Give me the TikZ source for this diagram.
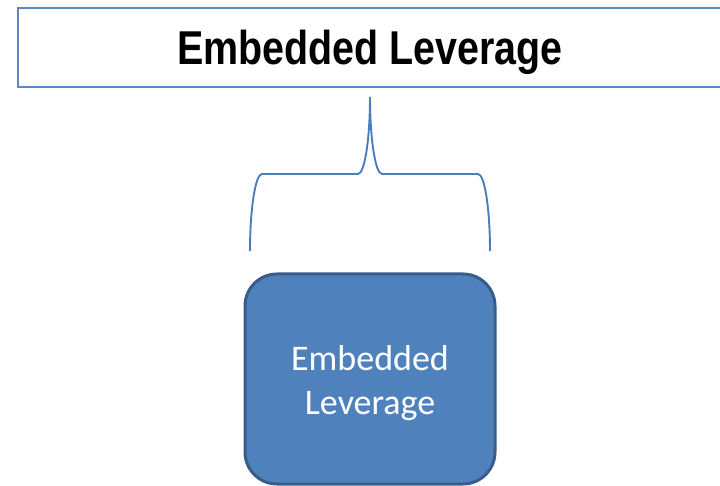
\documentclass[tikz,border=0pt]{standalone}
\usepackage{fontspec}
\setmainfont{Carlito}
\newfontfamily\titlefont{Liberation Sans}[FakeStretch=0.83]
\definecolor{tbblue}{HTML}{5A8AC6}
\definecolor{brblue}{HTML}{4A7EBB}
\definecolor{boxfill}{HTML}{4F81BD}
\definecolor{boxedge}{HTML}{385D8A}
\begin{document}
\begin{tikzpicture}[x=1pt,y=-1pt,
  titlebox/.style={draw=tbblue, line width=1.8pt, minimum width=720pt, minimum height=79pt, inner sep=0pt},
  titletext/.style={font=\titlefont\bfseries\fontsize{47.5}{56}\selectfont, inner sep=0pt, anchor=base},
  brace/.style={draw=brblue, line width=1.9pt},
  bluebox/.style={draw=boxedge, fill=boxfill, line width=3pt, rounded corners=32pt, minimum width=250pt, minimum height=210pt, inner sep=0pt},
  boxtext/.style={text=white, font=\fontsize{36}{44}\selectfont, align=center, inner sep=0pt}]
\useasboundingbox (0,0) rectangle (720,486);
\node[titlebox] (tbox) at (378,47.5) {};
\node[titletext] (title) at (370,65) {Embedded Leverage};
\coordinate (bl) at (250,251);
\coordinate (br) at (490,251);
\coordinate (tip) at (370,97);
\draw[brace] (bl) .. controls (250,209) and (255.4,174) .. (262,174) -- (358,174)
  .. controls (364.6,174) and (370,139) .. (tip)
  .. controls (370,139) and (375.4,174) .. (382,174) -- (478,174)
  .. controls (484.6,174) and (490,209) .. (br);
\node[bluebox] (box) at (370,379) {};
\node[boxtext] (boxlabel) at (370,383) {Embedded\\Leverage};
\end{tikzpicture}
\end{document}
